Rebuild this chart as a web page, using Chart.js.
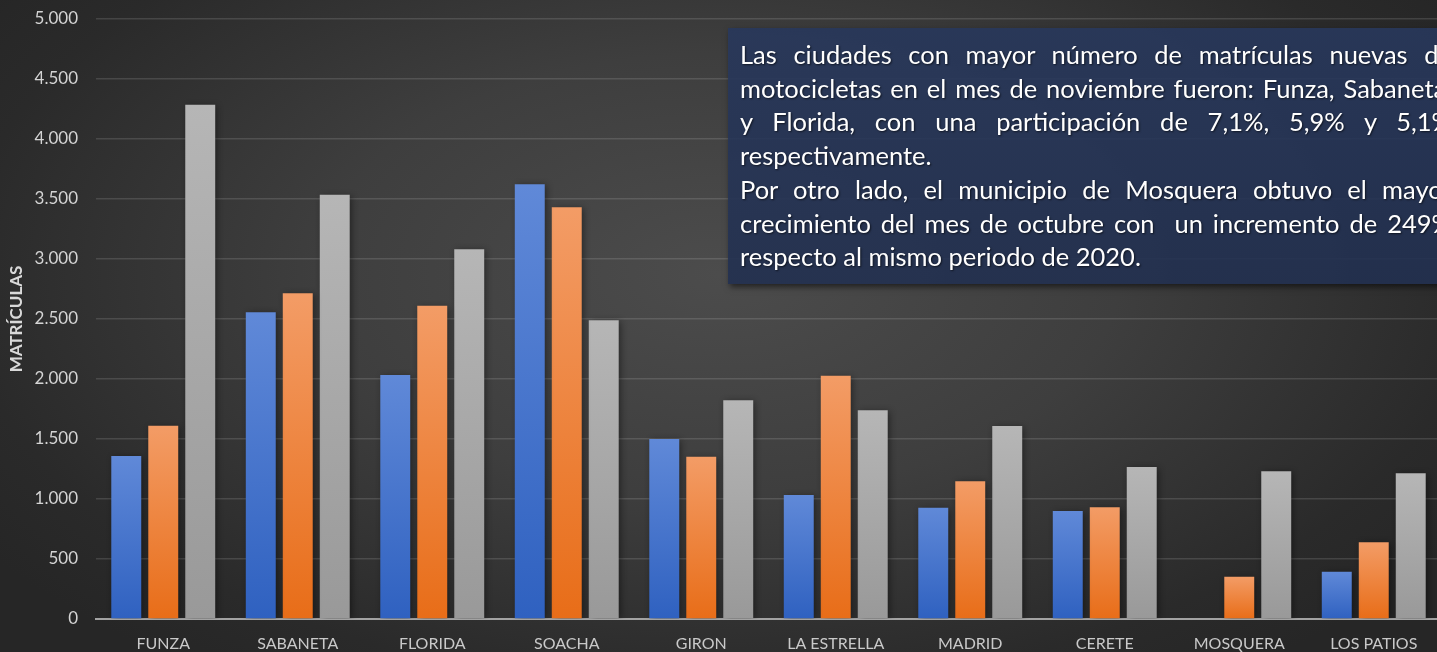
<!DOCTYPE html>
<html>
<head>
<meta charset="utf-8">
<script src="https://cdn.jsdelivr.net/npm/chart.js@4.4.0/dist/chart.umd.min.js"></script>
<style>
  html, body { margin: 0; padding: 0; width: 1437px; height: 652px; overflow: hidden; }
  body {
    background: radial-gradient(ellipse 62% 75% at 50% 42%, #4c4c4c 0%, #3e3e3e 45%, #2a2a2a 85%, #262626 100%);
    font-family: 'Lato', sans-serif;
  }
  #wrap { position: absolute; left: 0; top: 0; width: 1441px; height: 652px; }
  #note {
    position: absolute; left: 728px; top: 28px; width: 760px; height: 256px;
    background: linear-gradient(180deg, rgba(40,56,92,0.9) 0%, rgba(34,48,80,0.9) 100%);
    box-shadow: 2px 3px 6px rgba(0,0,0,0.55);
    color: #ffffff; font-size: 25.5px; line-height: 33.7px;
    padding-top: 10px; box-sizing: border-box;
    text-shadow: 1px 1px 2px rgba(0,0,0,0.6);
  }
  #note div { margin-left: 12px; width: 712px; white-space: nowrap; }
  #note .j { text-align: justify; text-align-last: justify; }
</style>
</head>
<body>
<div id="wrap"><canvas id="myChart"></canvas></div>
<div id="note">
  <div class="j">Las ciudades con mayor número de matrículas nuevas de</div>
  <div class="j">motocicletas en el mes de noviembre fueron: Funza, Sabaneta,</div>
  <div class="j">y Florida, con una participación de 7,1%, 5,9% y 5,1%</div>
  <div>respectivamente.</div>
  <div class="j">Por otro lado, el municipio de Mosquera obtuvo el mayor</div>
  <div class="j">crecimiento del mes de octubre con&nbsp; un incremento de 249%</div>
  <div>respecto al mismo periodo de 2020.</div>
</div>
<script>
const ciudades = ['FUNZA', 'SABANETA', 'FLORIDA', 'SOACHA', 'GIRON', 'LA ESTRELLA', 'MADRID', 'CERETE', 'MOSQUERA', 'LOS PATIOS'];
const matriculas2019 = [1358, 2556, 2033, 3622, 1500, 1033, 928, 900, 0, 394];
const matriculas2020 = [1611, 2714, 2611, 3431, 1353, 2028, 1147, 931, 353, 639];
const matriculas2021 = [4286, 3536, 3081, 2489, 1822, 1739, 1608, 1267, 1231, 1214];
const yMax = 5000;
const yStep = 500;

// miles con punto, como en el original
const miles = (v) => String(v).replace(/\B(?=(\d{3})+(?!\d))/g, '.');

// degradado por barra: claro arriba, oscuro abajo
const barFill = (top, bottom) => (ctx) => {
  const chart = ctx.chart;
  const y = chart.scales.y;
  if (!chart.chartArea || !y || ctx.type !== 'data') return bottom;
  const y0 = y.getPixelForValue(0);
  const y1 = y.getPixelForValue(ctx.raw);
  if (y0 - y1 < 1) return bottom;
  const g = chart.ctx.createLinearGradient(0, y1, 0, y0);
  g.addColorStop(0, top);
  g.addColorStop(1, bottom);
  return g;
};

const barShadow = {
  id: 'barShadow',
  beforeDatasetsDraw(chart) {
    const c = chart.ctx;
    c.save();
    c.shadowColor = 'rgba(0,0,0,0.45)';
    c.shadowBlur = 7;
    c.shadowOffsetX = 2;
    c.shadowOffsetY = 1;
  },
  afterDatasetsDraw(chart) {
    chart.ctx.restore();
  }
};

const ctx = document.getElementById('myChart').getContext('2d');
new Chart(ctx, {
  type: 'bar',
  data: {
    labels: ciudades,
    datasets: [
      { label: '2019', data: matriculas2019, backgroundColor: barFill('#6089d8', '#2f61c0') },
      { label: '2020', data: matriculas2020, backgroundColor: barFill('#f39c66', '#e86d18') },
      { label: '2021', data: matriculas2021, backgroundColor: barFill('#b6b6b6', '#999999') },
    ],
  },
  options: {
    responsive: true,
    maintainAspectRatio: false,
    animation: false,
    categoryPercentage: 0.825,
    barPercentage: 0.81,
    layout: { padding: { top: 19, left: 0, right: 0, bottom: 0 } },
    plugins: {
      legend: { display: false },
      tooltip: { enabled: false },
    },
    scales: {
      x: {
        grid: { display: false },
        border: { display: true, color: '#a3a3a3', width: 2 },
        ticks: {
          color: '#c9c9c9',
          font: { family: 'Lato', size: 16 },
          padding: 7,
          maxRotation: 0,
          autoSkip: false,
        },
        afterFit: (scale) => { scale.height = 33; },
      },
      y: {
        min: 0,
        max: yMax,
        grid: {
          color: 'rgba(255,255,255,0.13)',
          lineWidth: 1.5,
          drawTicks: false,
        },
        border: { display: false },
        ticks: {
          stepSize: yStep,
          color: '#d4d4d4',
          font: { family: 'Lato', size: 17 },
          padding: 18,
          callback: (v) => miles(v),
        },
        title: {
          display: true,
          text: 'MATRÍCULAS',
          color: '#d9d9d9',
          font: { family: 'Lato', size: 17, weight: 'bold' },
          padding: { top: 6, bottom: 0 },
        },
        afterFit: (scale) => {
          scale.width = 96;
          scale.paddingTop = 0;
          scale.paddingBottom = 0;
        },
      },
    },
  },
  plugins: [barShadow],
});
</script>
</body>
</html>
